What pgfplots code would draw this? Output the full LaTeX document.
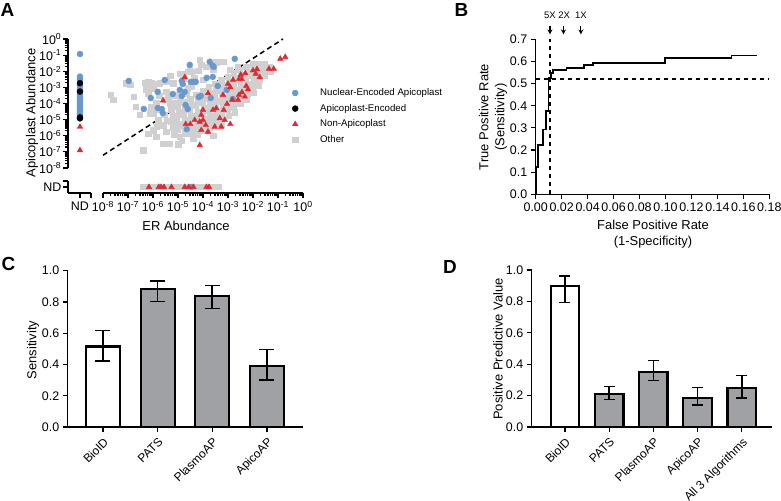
\documentclass[border=0pt]{standalone}
\usepackage{pgfplots}
\pgfplotsset{compat=1.18}
\usepackage{pgfplotstable}
\usepackage{fontspec}
\setmainfont{Liberation Sans}
\usetikzlibrary{arrows.meta}
\definecolor{nucblue}{RGB}{104,152,206}
\definecolor{nonred}{RGB}{222,42,48}
\definecolor{othgray}{RGB}{208,208,208}
\definecolor{bargray}{RGB}{160,161,164}
\newcommand{\tickfont}{\fontsize{12.5}{14}\selectfont}
\newcommand{\catfont}{\fontsize{12}{14}\selectfont}
\newcommand{\labfont}{\fontsize{13}{16}\selectfont}
\newcommand{\legfont}{\fontsize{9.7}{11}\selectfont}
\newcommand{\letfont}{\fontsize{19}{20}\selectfont\bfseries}
\newcommand{\dec}[1]{10\textsuperscript{#1}}
\def\minorlog{-7.699,-7.523,-7.398,-7.301,-7.222,-7.155,-7.097,-7.046,-6.699,-6.523,-6.398,-6.301,-6.222,-6.155,-6.097,-6.046,-5.699,-5.523,-5.398,-5.301,-5.222,-5.155,-5.097,-5.046,-4.699,-4.523,-4.398,-4.301,-4.222,-4.155,-4.097,-4.046,-3.699,-3.523,-3.398,-3.301,-3.222,-3.155,-3.097,-3.046,-2.699,-2.523,-2.398,-2.301,-2.222,-2.155,-2.097,-2.046,-1.699,-1.523,-1.398,-1.301,-1.222,-1.155,-1.097,-1.046,-0.699,-0.523,-0.398,-0.301,-0.222,-0.155,-0.097,-0.046}

\pgfplotsset{
  gpad/.style={scale only axis, anchor=south west, clip=false,
    axis line style={line width=1.4bp, black},
    x axis line style={-}, y axis line style={-},
    every outer x axis line/.append style={-},
    every outer y axis line/.append style={-},
    tick style={line width=1.2bp, black},
    major tick length=5bp, minor tick length=3bp, tick align=outside,
    tick label style={font=\tickfont},
    /pgf/number format/assume math mode=true},
  errstyle/.style={error bars/.cd, y dir=both, y explicit,
    error bar style={line width=1.6bp, black},
    error mark options={rotate=90, line width=1.6bp, mark size=#1, black}},
}

% log10 values (ER abundance, apicoplast abundance)
\pgfplotstableread{
lx ly
-7.69 -3.47
-7.60 -3.78
-7.09 -2.74
-6.91 -2.85
-6.77 -3.57
-6.69 -4.20
-6.33 -2.70
-6.20 -2.64
-6.07 -2.70
-6.27 -3.12
-6.20 -3.36
-6.00 -3.05
-5.87 -2.78
-5.73 -2.74
-5.47 -2.64
-5.20 -2.74
-4.93 -2.16
-4.80 -2.43
-4.60 -2.01
-4.47 -2.01
-4.13 -1.29
-4.07 -1.60
-3.87 -1.70
-3.60 -1.91
-3.20 -1.39
-2.93 -1.91
-4.47 -2.95
-5.47 -3.78
-5.87 -3.99
-6.07 -4.20
-5.20 -3.99
-5.47 -3.26
-4.00 -2.53
-4.67 -3.36
-6.40 -6.90
-6.20 -5.86
-6.00 -5.65
-5.87 -6.06
-5.60 -6.48
-5.33 -6.48
-5.00 -6.52
-5.80 -5.03
-5.60 -5.34
-5.20 -5.23
-5.47 -5.75
-4.93 -6.06
-4.67 -5.86
-4.40 -5.75
-4.13 -5.55
-3.87 -5.65
-6.00 -4.61
-5.73 -4.40
-5.31 -2.26
-4.87 -2.16
-4.53 -1.91
-4.20 -1.97
-6.53 -4.71
-6.13 -4.61
-3.47 -1.45
-2.60 -1.70
-5.40 -3.60
-5.12 -3.48
-4.92 -3.80
-5.32 -4.02
-4.62 -3.06
-4.35 -2.40
-5.75 -3.52
-5.85 -5.45
-5.15 -5.90
-4.85 -6.30
-4.40 -6.15
-3.60 -6.00
-5.55 -4.70
-5.45 -5.05
-5.28 -4.40
-5.20 -4.78
-5.30 -5.12
-5.22 -5.50
-5.02 -4.18
-4.95 -4.55
-5.05 -4.92
-4.98 -5.26
-5.03 -5.62
-4.78 -3.93
-4.72 -4.32
-4.80 -4.66
-4.73 -5.02
-4.79 -5.36
-4.72 -5.72
-4.52 -3.70
-4.46 -4.06
-4.55 -4.38
-4.48 -4.77
-4.53 -5.08
-4.47 -5.47
-4.52 -5.84
-4.27 -3.44
-4.22 -3.82
-4.29 -4.14
-4.21 -4.52
-4.26 -4.86
-4.23 -5.18
-4.28 -5.57
-4.22 -5.90
-4.02 -3.22
-3.97 -3.54
-4.04 -3.91
-3.98 -4.25
-4.03 -4.62
-3.96 -4.94
-4.01 -5.32
-3.97 -5.66
-3.77 -2.98
-3.72 -3.36
-3.78 -3.71
-3.73 -4.04
-3.77 -4.42
-3.71 -4.76
-3.76 -5.08
-3.73 -5.48
-3.52 -2.76
-3.47 -3.12
-3.53 -3.44
-3.48 -3.82
-3.52 -4.14
-3.46 -4.52
-3.51 -4.84
-3.49 -5.22
-3.27 -2.52
-3.22 -2.86
-3.28 -3.18
-3.23 -3.56
-3.26 -3.88
-3.21 -4.26
-3.27 -4.58
-3.22 -4.96
-3.26 -5.28
-3.02 -2.32
-2.97 -2.66
-3.03 -2.98
-2.98 -3.36
-3.02 -3.68
-2.96 -4.06
-3.01 -4.38
-2.98 -4.76
-2.77 -2.12
-2.72 -2.44
-2.78 -2.82
-2.73 -3.14
-2.77 -3.52
-2.71 -3.84
-2.76 -4.22
-2.73 -4.54
-2.52 -1.92
-2.47 -2.26
-2.53 -2.58
-2.48 -2.96
-2.52 -3.28
-2.46 -3.66
-2.51 -3.98
-2.27 -1.72
-2.22 -2.06
-2.28 -2.38
-2.23 -2.76
-2.27 -3.08
-2.21 -3.46
-2.26 -3.78
-2.02 -1.56
-1.97 -1.92
-2.03 -2.24
-1.98 -2.62
-2.02 -2.94
-1.96 -3.32
-1.77 -1.52
-1.72 -1.86
-1.78 -2.22
-1.73 -2.54
-1.76 -2.88
-1.52 -1.56
-1.47 -1.92
-1.53 -2.24
-1.32 -1.72
-1.28 -2.04
}\othertab

\pgfplotstableread{
lx ly
-6.97 -2.60
-6.37 -4.34
-6.09 -3.66
-5.81 -3.28
-5.53 -2.54
-5.21 -3.41
-4.93 -3.16
-4.85 -2.60
-4.81 -2.79
-4.53 -1.60
-4.49 -2.66
-4.37 -2.66
-4.29 -2.66
-5.81 -4.28
-5.65 -4.34
-5.61 -4.59
-4.73 -3.28
-4.69 -4.09
-4.85 -3.53
-4.61 -4.34
-4.17 -3.60
-3.85 -2.41
-3.73 -1.41
-4.65 -5.59
-3.57 -1.73
-3.61 -1.66
-2.73 -1.23
-3.61 -2.35
-3.41 -2.91
-3.05 -3.16
-2.81 -3.72
-3.69 -3.66
-4.09 -3.53
}\nuctab

\pgfplotstableread{
lx ly
-5.60 -3.82
-4.73 -2.37
-4.69 -5.28
-4.51 -5.28
-4.33 -5.03
-4.13 -5.13
-4.07 -4.71
-4.00 -4.40
-3.80 -3.36
-4.13 -6.58
-4.00 -5.03
-3.89 -5.34
-4.07 -5.65
-3.80 -5.75
-3.60 -4.40
-3.47 -4.30
-3.53 -5.44
-3.27 -5.44
-3.33 -4.92
-3.13 -5.03
-2.91 -5.28
-3.17 -4.40
-3.04 -4.02
-3.20 -3.47
-2.83 -3.78
-2.60 -3.78
-2.33 -3.57
-2.56 -3.47
-2.44 -3.30
-2.20 -3.12
-2.27 -2.91
-3.00 -2.78
-2.91 -2.99
-2.80 -2.53
-2.56 -2.49
-2.45 -2.49
-2.49 -2.22
-2.31 -2.12
-1.89 -2.16
-1.73 -2.37
-2.00 -1.95
-1.84 -1.87
-1.36 -1.85
-1.17 -1.85
-0.91 -1.23
-0.71 -1.12
}\nontab

\begin{document}
\begin{tikzpicture}
\path[use as bounding box] (0,0) rectangle (781bp,501bp);

% ---------- Panel A: ND column with y axis ----------
\begin{axis}[gpad, at={(68bp,333bp)}, width=23bp, height=129bp,
  xmin=0, xmax=1, ymin=-8, ymax=0,
  axis x line=none, axis y line*=left,
  ytick={-8,-7,-6,-5,-4,-3,-2,-1,0},
  yticklabels={\dec{-8},\dec{-7},\dec{-6},\dec{-5},\dec{-4},\dec{-3},\dec{-2},\dec{-1},\dec{0}},
  yticklabel style={inner xsep=1.5bp},
  minor ytick=\minorlog]
\addplot[only marks, mark=*, mark size=3bp, draw=nucblue, fill=nucblue] table[row sep=\\] {
x y\\ 0.52 -0.93\\ 0.52 -2.33\\ 0.52 -2.45\\ 0.52 -2.54\\ 0.52 -2.90\\ 0.52 -3.05\\ 0.52 -3.20\\ 0.52 -3.35\\ 0.52 -3.50\\ 0.52 -3.60\\ 0.52 -3.70\\ 0.52 -3.80\\ 0.52 -3.90\\ 0.52 -4.00\\ 0.52 -4.10\\ 0.52 -4.20\\ 0.52 -4.30\\ 0.52 -4.40\\ 0.52 -4.50\\ 0.52 -4.60\\ 0.52 -4.70\\};
\addplot[only marks, mark=*, mark size=3bp, draw=black, fill=black] table[row sep=\\] {
x y\\ 0.52 -2.74\\ 0.52 -3.26\\ 0.52 -4.86\\ 0.52 -4.92\\};
\addplot[only marks, mark=triangle*, mark size=3.2bp, draw=nonred, fill=nonred] table[row sep=\\] {
x y\\ 0.52 -5.45\\ 0.52 -6.90\\};
\end{axis}

% ---------- Panel A: main scatter ----------
\begin{axis}[gpad, at={(103bp,333bp)}, width=200bp, height=129bp,
  xmin=-8, xmax=0, ymin=-8, ymax=0, hide axis,
  legend image code/.code={\draw[mark repeat=2,mark phase=2,#1] plot coordinates {(0bp,0bp)(5bp,0bp)(10bp,0bp)};},
  legend style={draw=none, fill=none, inner sep=0pt, at={(0.945,0.40)}, anchor=west,
    font=\legfont, row sep=4.6bp, column sep=21bp,
    nodes={inner sep=1bp, text height=7bp, text depth=2bp}},
  legend cell align=left]
\addplot[forget plot, black, line width=1.5bp, dash pattern=on 5bp off 3.5bp] coordinates {(-8,-7.21) (-0.8,0)};
\addplot[forget plot, only marks, mark=square*, mark size=2.7bp, draw=othgray, fill=othgray] table[x=lx, y=ly] {\othertab};
\addplot[forget plot, only marks, mark=*, mark size=3bp, draw=nucblue, fill=nucblue] table[x=lx, y=ly] {\nuctab};
\addplot[forget plot, only marks, mark=triangle*, mark size=3.2bp, draw=nonred, fill=nonred] table[x=lx, y=ly] {\nontab};
\addlegendimage{only marks, mark=*, mark size=3bp, draw=nucblue, fill=nucblue}
\addlegendentry{Nuclear-Encoded Apicoplast}
\addlegendimage{only marks, mark=*, mark size=3bp, draw=black, fill=black}
\addlegendentry{Apicoplast-Encoded}
\addlegendimage{only marks, mark=triangle*, mark size=3.2bp, draw=nonred, fill=nonred}
\addlegendentry{Non-Apicoplast}
\addlegendimage{only marks, mark=square*, mark size=2.7bp, draw=othgray, fill=othgray}
\addlegendentry{Other}
\end{axis}

% ---------- Panel A: ND row with x axis ----------
\begin{axis}[gpad, at={(103bp,308bp)}, width=200bp, height=12bp,
  xmin=-8, xmax=0, ymin=0, ymax=1,
  axis y line=none, axis x line*=bottom,
  xtick={-8,-7,-6,-5,-4,-3,-2,-1,0},
  xticklabels={\dec{-8},\dec{-7},\dec{-6},\dec{-5},\dec{-4},\dec{-3},\dec{-2},\dec{-1},\dec{0}},
  minor xtick=\minorlog]
\addplot[only marks, mark=square*, mark size=2.7bp, draw=othgray, fill=othgray] table[row sep=\\] {
x y\\ -6.40 0.5\\ -6.30 0.5\\ -6.20 0.5\\ -6.10 0.5\\ -6.00 0.5\\ -5.90 0.5\\ -5.80 0.5\\ -5.70 0.5\\ -5.60 0.5\\ -5.50 0.5\\ -5.40 0.5\\ -5.30 0.5\\ -5.20 0.5\\ -5.10 0.5\\ -5.00 0.5\\ -4.90 0.5\\ -4.80 0.5\\ -4.70 0.5\\ -4.60 0.5\\ -4.50 0.5\\ -4.40 0.5\\ -4.30 0.5\\ -4.20 0.5\\ -4.10 0.5\\ -4.00 0.5\\ -3.90 0.5\\ -3.80 0.5\\ -3.70 0.5\\ -3.60 0.5\\ -3.50 0.5\\ -3.40 0.5\\};
\addplot[only marks, mark=*, mark size=3bp, draw=nucblue, fill=nucblue] table[row sep=\\] {
x y\\ -4.47 0.5\\};
\addplot[only marks, mark=triangle*, mark size=3.2bp, draw=nonred, fill=nonred] table[row sep=\\] {
x y\\ -6.16 0.5\\ -5.77 0.5\\ -5.68 0.5\\ -5.56 0.5\\ -5.26 0.5\\ -4.73 0.5\\ -4.57 0.5\\ -4.38 0.5\\ -3.86 0.5\\ -3.76 0.5\\};
\end{axis}

% ---------- Panel A: ND corner ----------
\begin{axis}[gpad, at={(68bp,308bp)}, width=23bp, height=12bp,
  xmin=0, xmax=1, ymin=0, ymax=1,
  axis x line*=bottom, axis y line*=left,
  xtick={0.52,1}, xticklabels={ND,{}}, ytick={0.5,1}, yticklabels={ND,{}},
  yticklabel style={inner xsep=1.5bp}]
\end{axis}

\node[rotate=90, font=\labfont] at (32bp,388bp) {Apicoplast Abundance};
\node[font=\labfont] at (186bp,275bp) {ER Abundance};

% ---------- Panel B ----------
\begin{axis}[gpad, at={(535.7bp,306.7bp)}, width=233.6bp, height=155bp,
  xmin=0, xmax=0.18, ymin=0, ymax=0.7,
  axis x line*=bottom, axis y line*=left,
  xtick={0,0.02,0.04,0.06,0.08,0.10,0.12,0.14,0.16,0.18},
  ytick={0,0.1,0.2,0.3,0.4,0.5,0.6,0.7},
  xticklabel style={/pgf/number format/fixed, /pgf/number format/fixed zerofill, /pgf/number format/precision=2},
  yticklabel style={/pgf/number format/fixed, /pgf/number format/fixed zerofill, /pgf/number format/precision=1}]
\addplot[black, line width=1.5bp, dash pattern=on 4.5bp off 3.5bp] coordinates {(0.011,0) (0.011,0.7)};
\addplot[black, line width=1.5bp, dash pattern=on 4.5bp off 3.5bp] coordinates {(0,0.52) (0.18,0.52)};
\addplot[black, line width=1.8bp, mark=none] coordinates {
(0,0) (0,0.125) (0.0018,0.125) (0.0018,0.221) (0.0056,0.221) (0.0056,0.293) (0.008,0.293) (0.008,0.377) (0.0098,0.377) (0.0098,0.525) (0.0115,0.525) (0.0115,0.548) (0.0135,0.548) (0.0135,0.561) (0.0238,0.561) (0.0238,0.571) (0.0372,0.571) (0.0372,0.583) (0.0444,0.583) (0.0444,0.593) (0.0995,0.593) (0.0995,0.615) (0.1508,0.615) (0.1508,0.627) (0.1705,0.627)};
\draw[-{Stealth[length=5bp,width=5bp]}, line width=1.2bp] (axis cs:0.011,0.758) -- (axis cs:0.011,0.722);
\draw[-{Stealth[length=5bp,width=5bp]}, line width=1.2bp] (axis cs:0.0214,0.758) -- (axis cs:0.0214,0.722);
\draw[-{Stealth[length=5bp,width=5bp]}, line width=1.2bp] (axis cs:0.0348,0.758) -- (axis cs:0.0348,0.722);
\node[font=\fontsize{9.5}{11}\selectfont, inner sep=0pt] at (axis cs:0.011,0.807) {5X};
\node[font=\fontsize{9.5}{11}\selectfont, inner sep=0pt] at (axis cs:0.0219,0.807) {2X};
\node[font=\fontsize{9.5}{11}\selectfont, inner sep=0pt] at (axis cs:0.0348,0.807) {1X};
\end{axis}
\node[rotate=90, font=\labfont, align=center] at (493bp,384bp) {True Positive Rate\\(Sensitivity)};
\node[font=\labfont, align=center] at (653bp,266.5bp) {False Positive Rate\\(1-Specificity)};

% ---------- Panel C ----------
\begin{axis}[gpad, at={(67.7bp,74bp)}, width=235bp, height=156.3bp,
  xmin=-0.645, xmax=3.655, ymin=0, ymax=1,
  axis x line*=bottom, axis y line*=left,
  xtick={0,1,2,3}, xticklabels={BioID,PATS,PlasmoAP,ApicoAP},
  xticklabel style={rotate=45, anchor=north east, font=\catfont},
  ytick={0,0.2,0.4,0.6,0.8,1.0},
  yticklabel style={/pgf/number format/fixed, /pgf/number format/fixed zerofill, /pgf/number format/precision=1}]
\addplot[ybar, bar shift=0pt, bar width=34bp, fill=white, draw=black, line width=2.2bp, errstyle=7.5bp]
  table[row sep=\\, x=x, y=y, y error plus=ep, y error minus=em] {
x y ep em\\ 0 0.515 0.103 0.093\\};
\addplot[ybar, bar shift=0pt, bar width=34bp, fill=bargray, draw=black, line width=2.2bp, errstyle=7.5bp]
  table[row sep=\\, x=x, y=y, y error plus=ep, y error minus=em] {
x y ep em\\ 1 0.881 0.055 0.079\\ 2 0.840 0.066 0.083\\ 3 0.388 0.109 0.087\\};
\end{axis}
\node[rotate=90, font=\labfont] at (33bp,151bp) {Sensitivity};

% ---------- Panel D ----------
\begin{axis}[gpad, at={(531.7bp,74bp)}, width=240.3bp, height=157bp,
  xmin=-0.753, xmax=4.686, ymin=0, ymax=1,
  axis x line*=bottom, axis y line*=left,
  xtick={0,1,2,3,4}, xticklabels={BioID,PATS,PlasmoAP,ApicoAP,All 3 Algorithms},
  xticklabel style={rotate=45, anchor=north east, font=\catfont},
  ytick={0,0.2,0.4,0.6,0.8,1.0},
  yticklabel style={/pgf/number format/fixed, /pgf/number format/fixed zerofill, /pgf/number format/precision=1}]
\addplot[ybar, bar shift=0pt, bar width=28.5bp, fill=white, draw=black, line width=2.2bp, errstyle=5.5bp]
  table[row sep=\\, x=x, y=y, y error plus=ep, y error minus=em] {
x y ep em\\ 0 0.900 0.060 0.106\\};
\addplot[ybar, bar shift=0pt, bar width=28.5bp, fill=bargray, draw=black, line width=2.2bp, errstyle=5.5bp]
  table[row sep=\\, x=x, y=y, y error plus=ep, y error minus=em] {
x y ep em\\ 1 0.210 0.048 0.036\\ 2 0.352 0.072 0.055\\ 3 0.184 0.068 0.044\\ 4 0.248 0.080 0.064\\};
\end{axis}
\node[rotate=90, font=\labfont] at (498bp,152bp) {Positive Predictive Value};

% ---------- Panel letters ----------
\node[font=\letfont] at (7.5bp,491bp) {A};
\node[font=\letfont] at (461.5bp,491bp) {B};
\node[font=\letfont] at (8.5bp,237.5bp) {C};
\node[font=\letfont] at (450bp,234.5bp) {D};
\end{tikzpicture}
\end{document}
